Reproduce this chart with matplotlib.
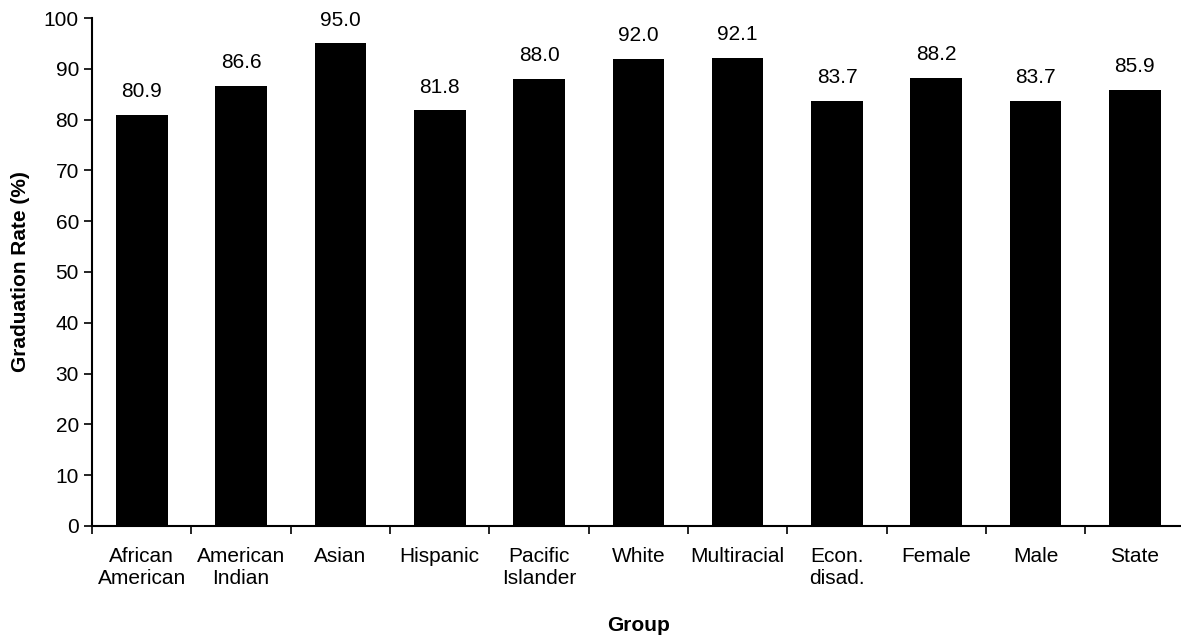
import matplotlib
matplotlib.use('Agg')
import matplotlib.pyplot as plt
import numpy as np

groups = ['African\nAmerican', 'American\nIndian', 'Asian', 'Hispanic', 'Pacific\nIslander',
          'White', 'Multiracial', 'Econ.\ndisad.', 'Female', 'Male', 'State']
rates = [80.9, 86.6, 95.0, 81.8, 88.0, 92.0, 92.1, 83.7, 88.2, 83.7, 85.9]
y_ticks = [0, 10, 20, 30, 40, 50, 60, 70, 80, 90, 100]

plt.rcParams['font.family'] = ['Liberation Sans Narrow', 'Liberation Sans', 'DejaVu Sans']

fig = plt.figure(figsize=(11.81, 6.43), dpi=100)
ax = fig.add_axes([0.078, 0.182, 0.925, 0.79])

x = np.arange(len(groups))
bars = ax.bar(x, rates, width=0.52, color='black')
for xi, v in zip(x, rates):
    ax.annotate(f'{v:.1f}', (xi, v), xytext=(0, 10), textcoords='offset points',
                ha='center', va='bottom', fontsize=15)

ax.set_xlim(-0.5, len(groups) - 0.5)
ax.set_ylim(0, 100)
ax.set_yticks(y_ticks)
ax.tick_params(axis='y', labelsize=15, direction='out', length=6, width=1.2)
ax.set_xticks(x)
ax.set_xticklabels(groups, fontsize=15, linespacing=1.2)
ax.tick_params(axis='x', which='major', length=0, pad=15)
ax.set_xticks(np.arange(-0.5, len(groups), 1), minor=True)
ax.tick_params(axis='x', which='minor', direction='out', length=6, width=1.2)

for s in ['top', 'right']:
    ax.spines[s].set_visible(False)
for s in ['left', 'bottom']:
    ax.spines[s].set_linewidth(1.5)

ax.set_ylabel('Graduation Rate (%)', fontsize=15, fontweight='bold', labelpad=10)
ax.set_xlabel('Group', fontsize=15, fontweight='bold', labelpad=20)

fig.savefig('out.png', dpi=100)
